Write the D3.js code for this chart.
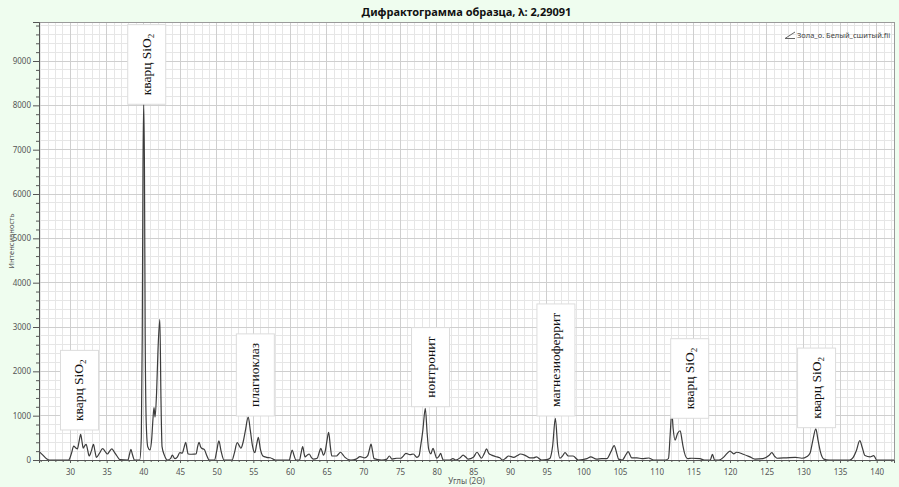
<!DOCTYPE html>
<html>
<head>
<meta charset="utf-8">
<script src="https://cdn.jsdelivr.net/npm/d3@7"></script>
<style>
  body { margin: 0; background: #effdef; }
  svg { display: block; }
</style>
</head>
<body>
<script>
// diffractogram: 2-theta angle and intensity
var angle = [25.8, 26.3, 26.8, 27.2, 29.8, 30.2, 30.5, 30.8, 31.0, 31.25, 31.45, 31.65, 31.8, 32.0, 32.2, 32.4, 32.6, 32.9, 33.2, 33.4,
  33.6, 34.0, 34.45, 34.8, 35.1, 35.4, 35.7, 36.0, 36.4, 36.8, 37.9, 38.1, 38.3, 38.5, 38.8, 39.5, 39.72, 39.85, 39.95, 40.05,
  40.15, 40.25, 40.4, 40.6, 40.9, 41.15, 41.3, 41.45, 41.6, 41.8, 42.0, 42.25, 42.4, 42.55, 42.86, 43.3, 43.7, 43.95, 44.3, 44.6,
  44.98, 45.3, 45.55, 45.77, 45.95, 46.1, 46.6, 47.2, 47.4, 47.6, 47.8, 47.95, 48.3, 48.6, 49.0, 49.7, 50.0, 50.3, 50.6, 51.0,
  52.1, 52.4, 52.8, 53.05, 53.3, 53.6, 53.9, 54.3, 54.6, 54.9, 55.2, 55.45, 55.68, 55.95, 56.3, 56.8, 57.3, 58.0, 59.9, 60.1,
  60.3, 60.55, 60.8, 61.3, 61.5, 61.73, 61.95, 62.05, 62.35, 62.6, 62.9, 63.2, 63.7, 64.0, 64.2, 64.4, 64.55, 64.8, 65.05, 65.27,
  65.5, 65.7, 66.35, 66.6, 66.9, 67.2, 67.5, 68.3, 69.0, 69.55, 70.2, 70.6, 70.85, 71.05, 71.25, 71.45, 72.5, 73.2, 73.55, 73.9,
  74.55, 75.1, 75.5, 75.8, 76.35, 76.8, 77.3, 77.6, 77.8, 78.1, 78.45, 78.7, 78.9, 79.2, 79.5, 79.75, 80.0, 80.3, 80.55, 80.75,
  80.9, 81.8, 82.2, 82.6, 83.2, 83.6, 84.0, 84.3, 85.0, 85.5, 85.8, 86.1, 86.5, 86.8, 87.1, 87.5, 88.0, 88.6, 89.0, 89.4,
  89.8, 90.5, 91.0, 91.4, 92.0, 92.7, 93.2, 93.6, 94.3, 95.0, 95.45, 95.8, 96.18, 96.5, 96.8, 97.2, 97.5, 97.95, 98.6, 99.3,
  100.5, 101.0, 101.8, 102.5, 103.2, 103.8, 104.2, 104.6, 104.8, 105.3, 105.8, 106.1, 106.6, 107.3, 108.0, 108.9, 109.6, 111.2, 111.6, 111.85,
  112.05, 112.25, 112.5, 112.85, 113.2, 113.45, 113.6, 114.2, 114.8, 115.9, 116.5, 117.3, 117.6, 117.9, 118.5, 119.1, 119.6, 120.0, 120.5, 120.9,
  121.8, 122.7, 123.4, 124.5, 125.3, 125.7, 126.1, 126.4, 127.7, 128.9, 129.8, 130.5, 130.9, 131.3, 131.7, 132.0, 132.3, 132.8, 133.5, 136.3,
  136.8, 137.2, 137.7, 138.0, 138.4, 139.1, 139.6, 140.0, 142.4];

var intensity = [190, 110, 30, 0, 0, 150, 315, 270, 250, 430, 580, 400, 270, 320, 355, 230, 90, 200, 355, 200,
  60, 150, 255, 190, 135, 200, 250, 190, 90, 10, 0, 120, 240, 130, 0, 0, 500, 2800, 6600, 8050,
  6600, 2800, 800, 300, 230, 500, 900, 1180, 970, 1500, 2500, 3175, 1400, 300, 110, 0, 30, 110, 30, 60,
  165, 155, 280, 400, 250, 135, 130, 140, 300, 400, 300, 265, 240, 120, 0, 0, 200, 430, 200, 0,
  0, 150, 390, 330, 265, 400, 650, 965, 650, 300, 165, 350, 510, 250, 90, 60, 50, 0, 0, 120,
  225, 100, 0, 0, 150, 300, 120, 70, 110, 135, 60, 20, 40, 180, 265, 180, 110, 200, 450, 625,
  300, 90, 90, 130, 175, 120, 60, 0, 20, 75, 50, 100, 250, 360, 200, 30, 0, 20, 90, 20,
  40, 40, 100, 150, 120, 135, 60, 100, 300, 650, 1165, 600, 250, 140, 265, 150, 40, 80, 150, 50,
  0, 0, 30, 0, 50, 110, 60, 20, 60, 175, 110, 40, 150, 250, 150, 110, 80, 50, 0, 40,
  90, 60, 100, 135, 110, 50, 50, 70, 0, 10, 40, 300, 940, 300, 40, 100, 165, 90, 90, 0,
  30, 70, 20, 30, 30, 200, 325, 120, 20, 0, 120, 190, 50, 50, 30, 45, 0, 0, 30, 600,
  1100, 700, 450, 600, 660, 450, 300, 30, 40, 30, 0, 0, 125, 0, 0, 60, 150, 200, 140, 175,
  130, 70, 20, 30, 100, 165, 80, 40, 50, 60, 40, 80, 150, 450, 700, 450, 200, 20, 0, 0,
  60, 200, 435, 300, 100, 70, 100, 0, 0];

// phase annotations: box centre angle and intensity at the box bottom
var labelNames = ['кварц SiO2', 'кварц SiO2', 'плагиоклаз', 'нонтронит', 'магнезиоферрит', 'кварц SiO2', 'кварц SiO2'];
var labelAngle = [31.29, 40.46, 55.27, 79.16, 96.26, 114.5, 131.8];
var labelBase = [677, 8024, 993, 1202, 993, 941, 729];

var xMajor = d3.range(30, 141, 5);
var yMajor = d3.range(0, 9001, 1000);

var width = 899,
    height = 487;

var svg = d3.select('body')
  .append('svg')
  .attr('width', width)
  .attr('height', height);

var x = d3.scaleLinear().domain([25.77, 142.36]).range([39, 894]);
var y = d3.scaleLinear().domain([0, 9880]).range([460, 22]);

var xMinor = d3.range(26, 143, 1).filter(function(d) { return d % 5 !== 0; });
var yMinor = d3.range(200, 9880, 200).filter(function(d) { return d % 1000 !== 0; });

// plot background
svg.append('rect')
  .attr('x', x.range()[0]).attr('y', y.range()[1])
  .attr('width', x.range()[1] - x.range()[0])
  .attr('height', y.range()[0] - y.range()[1])
  .attr('fill', '#fff');

// grid: minor first, major on top
var grid = svg.append('g');
grid.selectAll('.vmin').data(xMinor).enter().append('line')
  .attr('x1', x).attr('x2', x).attr('y1', y.range()[1]).attr('y2', y.range()[0])
  .attr('stroke', '#e6e6e6').attr('stroke-width', 1).attr('shape-rendering', 'crispEdges');
grid.selectAll('.hmin').data(yMinor).enter().append('line')
  .attr('y1', y).attr('y2', y).attr('x1', x.range()[0]).attr('x2', x.range()[1])
  .attr('stroke', '#e6e6e6').attr('stroke-width', 1).attr('shape-rendering', 'crispEdges');
grid.selectAll('.vmaj').data(xMajor).enter().append('line')
  .attr('x1', x).attr('x2', x).attr('y1', y.range()[1]).attr('y2', y.range()[0])
  .attr('stroke', '#cfcfcf').attr('stroke-width', 1).attr('shape-rendering', 'crispEdges');
grid.selectAll('.hmaj').data(yMajor).enter().append('line')
  .attr('y1', y).attr('y2', y).attr('x1', x.range()[0]).attr('x2', x.range()[1])
  .attr('stroke', '#cfcfcf').attr('stroke-width', 1).attr('shape-rendering', 'crispEdges');

// the pattern itself
var points = angle.map(function(a, i) { return [a, intensity[i]]; });
var line = d3.line()
  .x(function(d) { return x(d[0]); })
  .y(function(d) { return y(d[1]); })
  .curve(d3.curveMonotoneX);

svg.append('path')
  .datum(points)
  .attr('d', line)
  .attr('fill', 'none')
  .attr('stroke', '#3c3c3c')
  .attr('stroke-width', 1.2);

// border of the plot
svg.append('rect')
  .attr('x', x.range()[0] + 0.5).attr('y', y.range()[1] + 0.5)
  .attr('width', x.range()[1] - x.range()[0])
  .attr('height', y.range()[0] - y.range()[1])
  .attr('fill', 'none').attr('stroke', '#9a9a9a');

// axes
var axisFont = '"Noto Sans", sans-serif';

svg.append('g')
  .attr('transform', 'translate(' + x.range()[0] + ',0)')
  .call(d3.axisLeft(y).tickValues(yMajor).tickSize(6).tickPadding(2).tickFormat(d3.format('d')));
svg.append('g')
  .attr('transform', 'translate(' + x.range()[0] + ',0)')
  .call(d3.axisLeft(y).tickValues(yMinor).tickSize(3).tickFormat(''))
  .call(function(g) { g.select('.domain').remove(); });

svg.append('g')
  .attr('transform', 'translate(0,' + y.range()[0] + ')')
  .call(d3.axisBottom(x).tickValues(xMajor).tickSize(3).tickPadding(6).tickFormat(d3.format('d')));
svg.append('g')
  .attr('transform', 'translate(0,' + y.range()[0] + ')')
  .call(d3.axisBottom(x).tickValues(xMinor).tickSize(2).tickFormat(''))
  .call(function(g) { g.select('.domain').remove(); });

svg.selectAll('.domain').attr('stroke', '#555');
svg.selectAll('.tick line').attr('stroke', '#555');
svg.selectAll('.tick text')
  .attr('fill', '#555')
  .style('font-family', axisFont)
  .style('font-size', '8px');

// annotation boxes
var labels = svg.append('g');
labelNames.forEach(function(name, i) {
  var cx = x(labelAngle[i]),
      bottom = y(labelBase[i]);
  var g = labels.append('g');
  var rect = g.append('rect').attr('fill', '#fff').attr('stroke', '#dcdcdc');
  var t = g.append('text')
    .attr('transform', 'translate(' + cx + ',0) rotate(-90)')
    .attr('text-anchor', 'middle')
    .style('font-family', '"Liberation Serif", serif')
    .style('font-size', '13.5px')
    .attr('fill', '#111');
  if (name.slice(-4) === 'SiO2') {
    t.append('tspan').text(name.slice(0, -1));
    t.append('tspan').attr('dy', 3).style('font-size', '9px').text('2');
  } else {
    t.text(name);
  }
  var len = t.node().getComputedTextLength();
  var h = len + 18;
  var top = bottom - h;
  // text baseline sits a little right of the box centre once rotated
  t.attr('x', -(top + h / 2)).attr('y', 4);
  rect.attr('x', cx - 19).attr('y', top).attr('width', 38).attr('height', h);
});

// title
svg.append('text')
  .attr('x', (x.range()[0] + x.range()[1]) / 2)
  .attr('y', 16)
  .attr('text-anchor', 'middle')
  .style('font-family', axisFont)
  .style('font-size', '11px')
  .style('font-weight', 'bold')
  .attr('fill', '#111')
  .text('Дифрактограмма образца, λ: 2,29091');

// axis titles
svg.append('text')
  .attr('x', (x.range()[0] + x.range()[1]) / 2)
  .attr('y', 484)
  .attr('text-anchor', 'middle')
  .style('font-family', axisFont)
  .style('font-size', '8px')
  .attr('fill', '#555')
  .text('Углы (2Θ)');

svg.append('text')
  .attr('transform', 'translate(14,' + (y.range()[0] + y.range()[1]) / 2 + ') rotate(-90)')
  .attr('text-anchor', 'middle')
  .style('font-family', axisFont)
  .style('font-size', '7.5px')
  .attr('fill', '#555')
  .text('Интенсивность');

// legend
svg.append('path')
  .attr('d', 'M785,38.5L795,32M785,38.5L795,38.5')
  .attr('fill', 'none')
  .attr('stroke', '#666');
svg.append('text')
  .attr('x', 797)
  .attr('y', 38)
  .style('font-family', axisFont)
  .style('font-size', '7.5px')
  .attr('fill', '#444')
  .text('Зола_о. Белый_сшитый.fii');
</script>
</body>
</html>
